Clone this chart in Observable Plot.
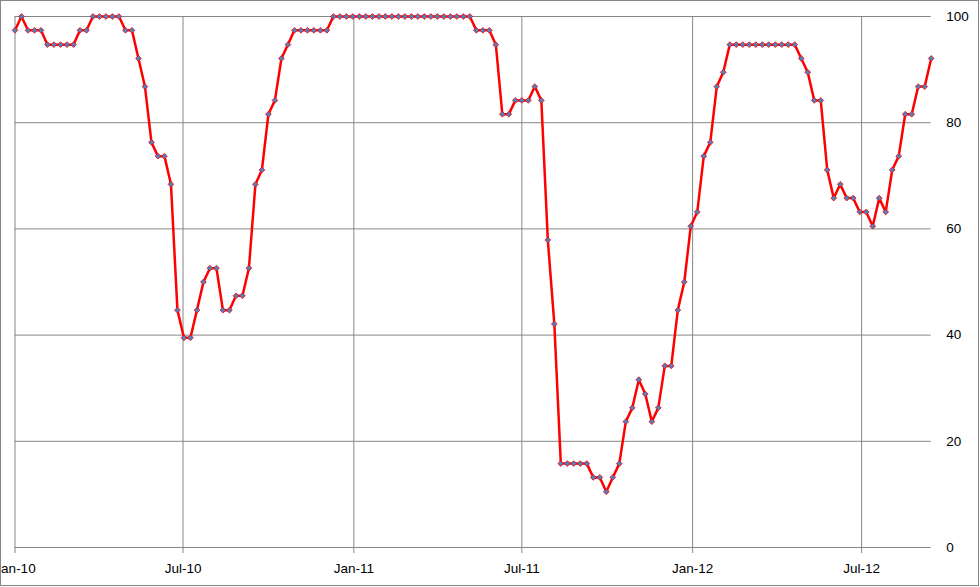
<!DOCTYPE html>
<html><head><meta charset="utf-8">
<script src="https://cdn.jsdelivr.net/npm/d3@7"></script>
<script src="https://cdn.jsdelivr.net/npm/@observablehq/plot@0.6"></script>
<style>
body{margin:0;background:#fff;}
#wrap{position:relative;width:980px;height:587px;overflow:hidden;}
#border{position:absolute;left:0;top:0;width:977px;height:584px;border:1px solid #868686;pointer-events:none;}
</style></head><body><div id="wrap"><div id="border"></div></div>
<script>
const startDate = "2010-01-01";
const endDate = "2012-09-14";
const values = [
  97.4,100,97.4,97.4,97.4,94.7,94.7,94.7,94.7,94.7,
  97.4,97.4,100,100,100,100,100,97.4,97.4,92.1,
  86.8,76.3,73.7,73.7,68.4,44.7,39.5,39.5,44.7,50,
  52.6,52.6,44.7,44.7,47.4,47.4,52.6,68.4,71.1,81.6,
  84.2,92.1,94.7,97.4,97.4,97.4,97.4,97.4,97.4,100,
  100,100,100,100,100,100,100,100,100,100,
  100,100,100,100,100,100,100,100,100,100,
  100,97.4,97.4,97.4,94.7,81.6,81.6,84.2,84.2,84.2,
  86.8,84.2,57.9,42.1,15.8,15.8,15.8,15.8,15.8,13.2,
  13.2,10.5,13.2,15.8,23.7,26.3,31.6,28.9,23.7,26.3,
  34.2,34.2,44.7,50,60.5,63.2,73.7,76.3,86.8,89.5,
  94.7,94.7,94.7,94.7,94.7,94.7,94.7,94.7,94.7,94.7,
  94.7,92.1,89.5,84.2,84.2,71.1,65.8,68.4,65.8,65.8,
  63.2,63.2,60.5,65.8,63.2,71.1,73.7,81.6,81.6,86.8,
  86.8,92.1
];
const xTickDates = ["2010-01-01","2010-07-01","2011-01-01","2011-07-01","2012-01-01","2012-07-01"];
const xTickLabels = ["Jan-10","Jul-10","Jan-11","Jul-11","Jan-12","Jul-12"];
const yTicks = [0,20,40,60,80,100];

const t0 = new Date(startDate);
const data = values.map((v,i)=>({date: d3.utcDay.offset(t0, 7*i), value: v}));
const xt = xTickDates.map(d=>new Date(d));
const labelOf = new Map(xt.map((d,i)=>[+d, xTickLabels[i]]));

const chart = Plot.plot({
  width: 980, height: 587,
  marginLeft: 14.5, marginRight: 49.3, marginTop: 16, marginBottom: 40,
  style: {fontFamily: "'Liberation Sans', Arial, sans-serif", fontSize: "13.5px", color: "#000", background: "transparent"},
  x: {type: "utc", domain: [t0, new Date(endDate)]},
  y: {domain: [0,100]},
  marks: [
    Plot.ruleY(yTicks, {stroke: "#868686", strokeWidth: 1}),
    Plot.ruleX(xt, {y1: 0, y2: 100, stroke: "#868686"}),
    Plot.axisX(xt, {tickSize: 6, tickPadding: 10, tickFormat: d => labelOf.get(+d), stroke: "#868686", fill: "#000", label: null}),
    Plot.axisY(yTicks, {anchor: "right", tickSize: 0, tickPadding: 15, textAnchor: "start", label: null, fill: "#000"}),
    Plot.line(data, {x: "date", y: "value", stroke: "#FF0000", strokeWidth: 2.5}),
    Plot.dot(data, {x: "date", y: "value", symbol: "diamond2", r: 2.6, fill: "#4F81BD", stroke: "#FF0000", strokeWidth: 0.8})
  ]
});
document.getElementById("wrap").appendChild(chart);
</script></body></html>
